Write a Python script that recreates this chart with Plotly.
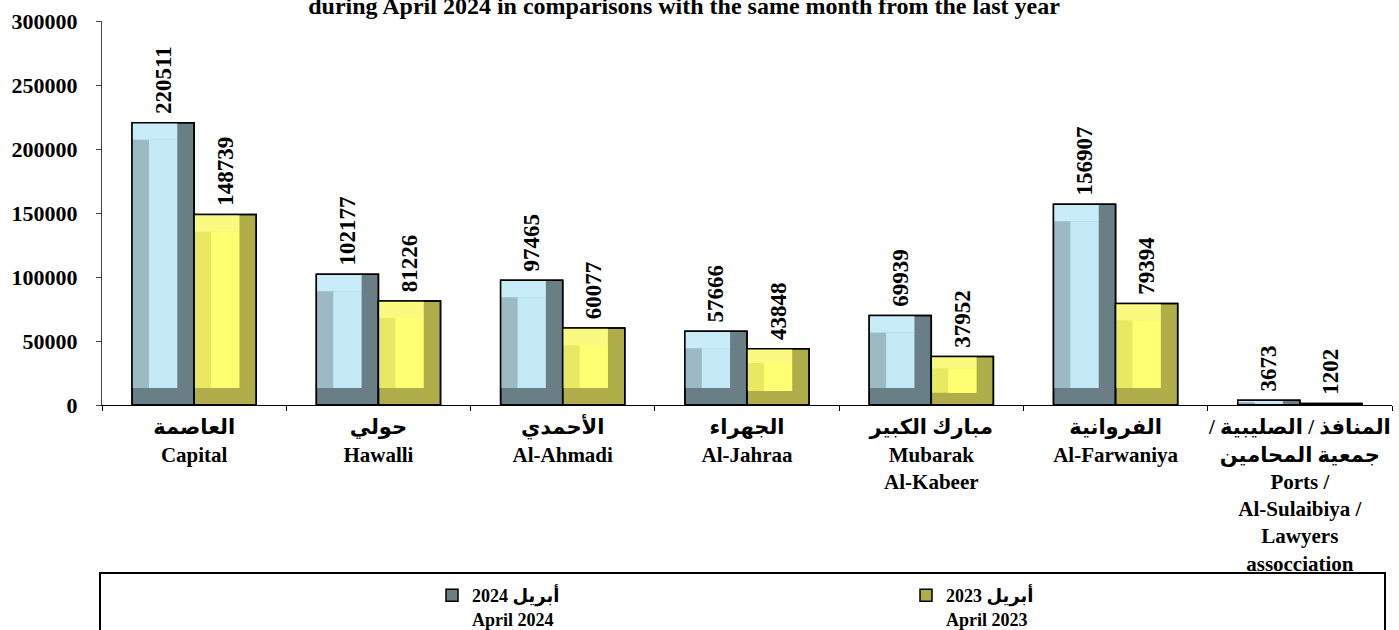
import numpy as np
import plotly.graph_objects as go

# ---------------- data ----------------
cats_ar = [
    "العاصمة",
    "حولي",
    "الأحمدي",
    "الجهراء",
    "مبارك الكبير",
    "الفروانية",
    "/ المنافذ / الصليبية<br>جمعية المحامين",
]
cats_en = [
    "Capital",
    "Hawalli",
    "Al-Ahmadi",
    "Al-Jahraa",
    "Mubarak<br>Al-Kabeer",
    "Al-Farwaniya",
    "Ports /<br>Al-Sulaibiya /<br>Lawyers<br>assocciation",
]
apr_2024 = [220511, 102177, 97465, 57666, 69939, 156907, 3673]
apr_2023 = [148739, 81226, 60077, 43848, 37952, 79394, 1202]
series_names = ["أبريل 2024<br>April 2024", "أبريل 2023<br>April 2023"]
y_tick_vals = [0, 50000, 100000, 150000, 200000, 250000, 300000]
title_text = "during April 2024 in comparisons with the same month from the last year"

categories = [f"{a}<br>{e}" for a, e in zip(cats_ar, cats_en)]

# ---------------- style ----------------
W = 0.337          # bar width (category units)
BEV_X = 0.092      # bevel width (category units)
BEV_Y = 13300      # bevel height (value units)
FONT = "Liberation Serif, Times New Roman, DejaVu Sans, serif"

pal_2024 = dict(dark="#6a7e85", left="#9bbac4", top="#c9edf8", center="#c4eaf5")
pal_2023 = dict(dark="#b0ae4a", left="#e8e862", top="#fafa80", center="#ffff72")

fig = go.Figure()


def add_series(vals, offset, pal, name):
    v = np.array(vals, dtype=float)
    bev = np.minimum(BEV_Y, v * 0.25)
    common = dict(x=categories, offset=offset, hoverinfo="skip", showlegend=False)
    # outer body (right / bottom bevel colour)
    fig.add_trace(go.Bar(y=v, width=W, name=name, legendgroup=name,
                         marker=dict(color=pal["dark"], line=dict(color="black", width=1.5)),
                         **{**common, "showlegend": True}))
    # left bevel
    fig.add_trace(go.Bar(y=v - bev, base=bev, width=W - BEV_X, legendgroup=name,
                         marker=dict(color=pal["left"], line=dict(width=0)), **common))
    # top bevel
    fig.add_trace(go.Bar(y=bev, base=v - bev, width=W - BEV_X, legendgroup=name,
                         marker=dict(color=pal["top"], line=dict(width=0)), **common))
    # centre face
    fig.add_trace(go.Bar(x=categories, y=v - 2 * bev, base=bev, offset=offset + BEV_X,
                         width=W - 2 * BEV_X, legendgroup=name, hoverinfo="skip", showlegend=False,
                         marker=dict(color=pal["center"], line=dict(width=0))))
    # outline + value labels
    fig.add_trace(go.Bar(y=v, width=W, legendgroup=name,
                         marker=dict(color="rgba(0,0,0,0)", line=dict(color="black", width=1.5)),
                         text=[f"{int(t)}" for t in v],
                         texttemplate="\u00a0%{text}",
                         textposition="outside", textangle=-90, constraintext="none",
                         cliponaxis=False,
                         textfont=dict(family=FONT, size=23, color="black", weight="bold"),
                         **common))


add_series(apr_2024, -W, pal_2024, series_names[0])
add_series(apr_2023, 0.0, pal_2023, series_names[1])

# plot-area geometry (pixels)
L, R, T, B = 102, 7, 21, 225
PW, PH = 1399 - L - R, 630 - T - B


def px_x(p):
    return (p - L) / PW


def px_y(p):
    return (630 - B - p) / PH


fig.update_layout(
    width=1399, height=630,
    margin=dict(l=L, r=R, t=T, b=B, pad=0, autoexpand=False),
    paper_bgcolor="white", plot_bgcolor="white",
    barmode="overlay",
    font=dict(family=FONT, color="black"),
    title=dict(text=title_text, x=684 / 1399, xanchor="center", xref="container",
               y=1 - 6 / 630, yanchor="middle", yref="container",
               font=dict(family=FONT, size=24, color="black", weight="bold")),
    xaxis=dict(type="category", showline=True, linecolor="black", linewidth=1,
               ticks="outside", tickson="boundaries", ticklen=5, tickcolor="black",
               tickangle=0,
               tickfont=dict(family=FONT, size=21, color="black", weight="bold"),
               ticklabelstandoff=3, showgrid=False, zeroline=False, automargin=False),
    yaxis=dict(range=[0, 300000], tickvals=y_tick_vals, tickformat="d",
               showline=True, linecolor="#444444", linewidth=1,
               ticks="outside", ticklen=5, tickcolor="#444444",
               tickfont=dict(family=FONT, size=22, color="black", weight="bold"),
               ticklabelstandoff=14, showgrid=False, zeroline=False, automargin=False),
    legend=dict(orientation="h", x=px_x(432), xanchor="left", y=px_y(577), yanchor="top",
                entrywidth=429, entrywidthmode="pixels", valign="top",
                bgcolor="rgba(0,0,0,0)", borderwidth=0,
                font=dict(family=FONT, size=18, color="black", weight="bold")),
    shapes=[dict(type="rect", xref="paper", yref="paper",
                 x0=px_x(100), x1=px_x(1385), y0=px_y(573), y1=px_y(660),
                 line=dict(color="black", width=2), fillcolor="rgba(0,0,0,0)", layer="above")],
)

fig.write_html("out.html", config={"displayModeBar": False},
               post_script="document.body.style.margin='0';document.body.style.overflow='hidden';")
